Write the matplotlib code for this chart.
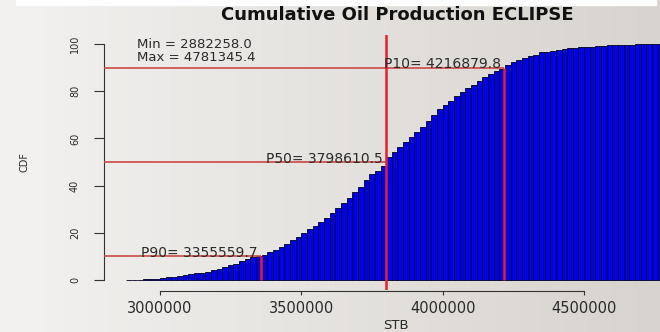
"""
Cumulative distribution of simulated oil production (ECLIPSE runs),
drawn as an R-style cumulative histogram with P90/P50/P10 markers.
"""

import matplotlib

matplotlib.use("Agg")
import matplotlib.pyplot as plt
import numpy as np
from matplotlib.patches import Rectangle

# histogram bins (STB)
BIN_START = 2880000
BIN_WIDTH = 20000
N_BINS = 96

# cumulative percentage per bin
cdf_pct = [
    0.05, 0.1, 0.15, 0.25, 0.4, 0.6, 0.9, 1.2, 1.5, 1.7, 2.0, 2.4, 2.8, 3.2, 3.6, 4.1, 4.7,
    5.5, 6.2, 6.9, 7.9, 8.9, 9.7, 10.2, 10.7, 11.7, 12.8, 14.0, 15.3, 17.0, 18.4, 20.1,
    21.6, 23.0, 24.4, 26.2, 28.6, 30.5,
    32.5, 34.7, 37.2, 39.6, 42.4, 44.8, 46.4, 48.2, 52.3, 54.4, 56.5, 58.6, 60.7, 62.8,
    65.0, 67.5, 70.0,
    72.6, 74.3, 75.9, 77.8, 79.6, 81.3, 82.7, 84.4, 85.8, 87.2, 88.4, 89.5, 90.9, 92.3,
    93.3, 94.0, 94.7, 95.4,
    96.4, 96.7, 97.0, 97.4, 97.8, 98.1, 98.3, 98.5, 98.7, 98.9, 99.1, 99.2, 99.4, 99.5,
    99.6, 99.7, 99.7, 99.8, 99.8, 99.9, 99.9, 100.0, 100.0,
]

stb_min = 2882258.0
stb_max = 4781345.4

# percentile name -> (STB value, CDF level)
percentiles = {
    "P90": (3355559.7, 10),
    "P50": (3798610.5, 50),
    "P10": (4216879.8, 90),
}

x_ticks = [3000000, 3500000, 4000000, 4500000]
y_ticks = [0, 20, 40, 60, 80, 100]

W, H = 660, 332
TEXT = "#2a2a2a"
HLINE = "#cc4848"
VLINE = "#e8202a"


def px(x0, y0, w, h):
    """Pixel box (from top-left) -> figure fraction rect."""
    return [x0 / W, 1 - (y0 + h) / H, w / W, h / H]


def main() -> None:
    plt.rcParams.update({"font.family": "DejaVu Sans", "axes.linewidth": 0.8})

    fig = plt.figure(figsize=(W / 100, H / 100), dpi=100)

    # soft grey backdrop, lighter on the left
    bg = fig.add_axes([0, 0, 1, 1], zorder=-5)
    left = np.array([243, 242, 240]) / 255
    right = np.array([215, 211, 206]) / 255
    t = np.linspace(0, 1, 256)[None, :, None]
    grad = left * (1 - t) + right * t
    bg.imshow(grad, aspect="auto", extent=[0, 1, 0, 1])
    bg.set_axis_off()
    fig.patches.append(
        Rectangle((16 / W, 1 - 4.5 / H), 640 / W, 4.5 / H,
                  transform=fig.transFigure, color="white", zorder=-4)
    )

    edges = BIN_START + BIN_WIDTH * np.arange(N_BINS)
    lo, hi = BIN_START, BIN_START + BIN_WIDTH * N_BINS
    pad = 0.04 * (hi - lo)

    ax = fig.add_axes(px(104.3, 34.5, 586.4, 255))
    ax.patch.set_alpha(0)
    ax.set_xlim(lo - pad, hi + pad)
    ax.set_ylim(-4, 104)

    ax.bar(edges, cdf_pct, width=BIN_WIDTH, align="edge",
           color="#0000e6", edgecolor="#000022", linewidth=0.6, zorder=2)

    x_left = lo - pad
    for name, (val, level) in percentiles.items():
        ax.hlines(level, x_left, val, color=HLINE, linewidth=1.2, zorder=3)
        if name == "P50":
            ax.axvline(val, color=VLINE, linewidth=1.8, zorder=4)
        else:
            ax.vlines(val, 0, level, color=VLINE, linewidth=1.8, zorder=4)
        ax.annotate(f"{name}= {val:.1f}", (val, level), xytext=(-2, -0.5),
                    textcoords="offset points", ha="right", va="baseline",
                    fontsize=10, color=TEXT, zorder=5)

    ax.text(2918000, 99.8, f"Min = {stb_min:.1f}", ha="left", va="center",
            fontsize=9.5, color=TEXT)
    ax.text(2918000, 94.3, f"Max = {stb_max:.1f}", ha="left", va="center",
            fontsize=9.5, color=TEXT)

    ax.set_title("Cumulative Oil Production ECLIPSE", fontsize=13,
                 fontweight="bold", color="#111111", y=1.055, pad=0)

    for side in ("top", "right"):
        ax.spines[side].set_visible(False)
    ax.spines["left"].set_bounds(0, 100)
    ax.spines["bottom"].set_bounds(x_ticks[0], x_ticks[-1])
    ax.spines["bottom"].set_position(("outward", 1.2))
    for s in ("left", "bottom"):
        ax.spines[s].set_color("#333333")

    ax.set_xticks(x_ticks)
    ax.set_xticklabels([str(v) for v in x_ticks])
    ax.set_yticks(y_ticks)
    ax.set_yticklabels([str(v) for v in y_ticks], rotation=90, va="center")
    ax.tick_params(axis="x", length=3, width=0.8, pad=4, labelsize=10.5,
                   colors="#333333", labelcolor=TEXT)
    ax.tick_params(axis="y", length=7.5, width=0.8, pad=10, labelsize=7,
                   colors="#333333", labelcolor=TEXT)

    ax.set_xlabel("STB", fontsize=9.5, color=TEXT)
    ax.set_ylabel("CDF", fontsize=7, color=TEXT)
    ax.xaxis.set_label_coords((396 - 104.3) / 586.4, (289.5 - 319) / 255)
    ax.yaxis.set_label_coords((30 - 104.3) / 586.4, (289.5 - 162) / 255)

    fig.savefig("out.png", dpi=100)
    plt.close(fig)


if __name__ == "__main__":
    main()
